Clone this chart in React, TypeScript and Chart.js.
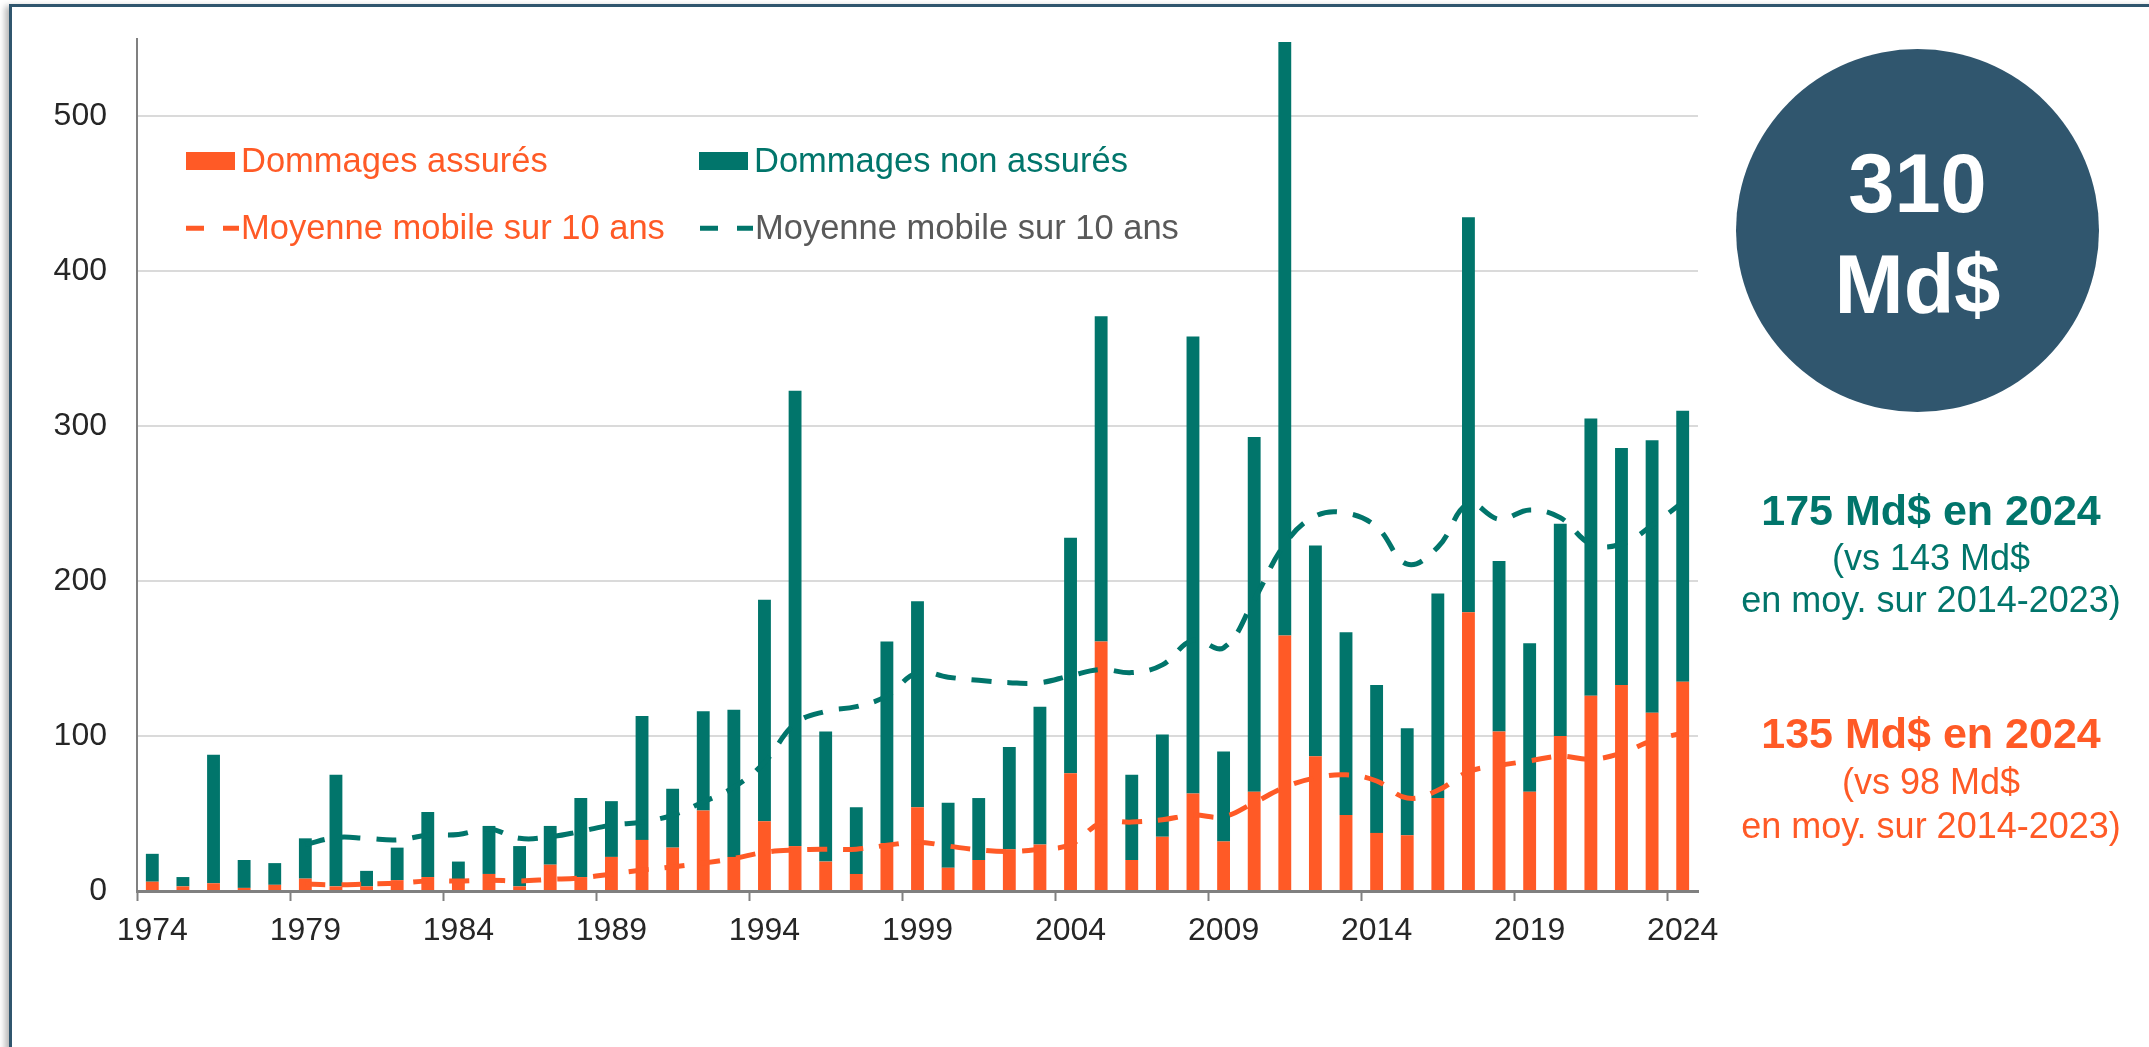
import React, { useEffect, useRef } from 'react';
import { Chart, registerables } from 'chart.js';

Chart.register(...registerables);

// ---------- data ----------
const years = [
  '1974', '1975', '1976', '1977', '1978', '1979', '1980', '1981', '1982', '1983',
  '1984', '1985', '1986', '1987', '1988', '1989', '1990', '1991', '1992', '1993',
  '1994', '1995', '1996', '1997', '1998', '1999', '2000', '2001', '2002', '2003',
  '2004', '2005', '2006', '2007', '2008', '2009', '2010', '2011', '2012', '2013',
  '2014', '2015', '2016', '2017', '2018', '2019', '2020', '2021', '2022', '2023',
  '2024',
];

// Dommages assurés (Md$)
const insured = [
  6, 3, 5, 2, 4, 8, 3, 3, 7, 9,
  7, 11, 3, 17, 9, 22, 33, 28, 52, 22,
  45, 29, 19, 11, 31, 54, 15, 20, 27, 30,
  76, 161, 20, 35, 63, 32, 64, 165, 87, 49,
  37.5, 36, 60, 180, 103, 64, 100, 126, 133, 115,
  135,
];

// Dommages non assurés (Md$)
const uninsured = [
  18, 6, 83, 18, 14, 26, 72, 10, 21, 42,
  12, 31, 26, 25, 51, 36, 80, 38, 64, 95,
  143, 294, 84, 43, 130, 133, 42, 40, 66, 89,
  152, 210, 55, 66, 295, 58, 229, 383, 136, 118,
  95.5, 69, 132, 255, 110, 96, 137, 179, 153, 176,
  175,
];

// Moyenne mobile sur 10 ans — dommages assurés
const movingAvgInsured = [
  null, null, null, null, null, 4.5, 4, 4.5, 5, 6.5,
  6.5, 7, 6.5, 7.5, 8.5, 11, 13.5, 15.5, 18, 21,
  25, 26.5, 27, 27, 29.5, 31.5, 29, 26.5, 25.5, 27,
  30, 44, 44.5, 46, 49, 48, 57, 67, 73, 75,
  71, 60, 65, 77, 81, 84, 87, 85, 89, 97,
  102,
];

// Moyenne mobile sur 10 ans — dommages totaux
const movingAvgTotal = [
  null, null, null, null, null, 30, 34.5, 34, 33, 36,
  36.5, 40, 34, 35, 38.5, 42.5, 44.5, 49, 57.5, 67,
  83, 108, 116, 119, 126, 141, 138, 136, 134.5, 134.5,
  139, 143, 141, 146, 162, 157, 188, 224, 242, 244,
  235, 211, 222, 250, 240, 246, 241, 224, 224, 236,
  251,
];

const seriesLabels = [
  'Dommages assurés',
  'Dommages non assurés',
  'Moyenne mobile sur 10 ans',
  'Moyenne mobile sur 10 ans',
];

const Y_MAX = 550;
const Y_STEP = 100;

// ---------- styles ----------
const ORANGE = '#FF5A26';
const TEAL = '#01756B';
const GREY_TEXT = '#595959';
const NAVY = '#30566E';
const AXIS = '#808080';
const FONT = '"Liberation Sans", Arial, Helvetica, sans-serif';

const legendItems = [
  { ds: 0, kind: 'box', x: 186, y: 171.5, color: ORANGE },
  { ds: 1, kind: 'box', x: 699, y: 171.5, color: TEAL },
  { ds: 2, kind: 'dash', x: 186, y: 239.3, color: ORANGE },
  { ds: 3, kind: 'dash', x: 700, y: 239.3, color: GREY_TEXT },
];

const legendPlugin = {
  id: 'customLegend',
  afterDraw(chart: any) {
    const ctx = chart.ctx;
    ctx.save();
    ctx.font = `34.5px ${FONT}`;
    ctx.textBaseline = 'alphabetic';
    ctx.textAlign = 'left';
    for (const it of legendItems) {
      const ds = chart.data.datasets[it.ds];
      let textX;
      if (it.kind === 'box') {
        ctx.fillStyle = ds.backgroundColor;
        ctx.fillRect(it.x, it.y - 19.5, 49, 18);
        textX = it.x + 55;
      } else {
        ctx.strokeStyle = ds.borderColor;
        ctx.lineWidth = 5;
        ctx.setLineDash([18, 19]);
        ctx.beginPath();
        ctx.moveTo(it.x, it.y - 11);
        ctx.lineTo(it.x + 53, it.y - 11);
        ctx.stroke();
        ctx.setLineDash([]);
        textX = it.x + 55;
      }
      ctx.fillStyle = it.color;
      ctx.fillText(ds.label, textX, it.y);
    }
    ctx.restore();
  },
};

export default function App() {
  const canvasRef = useRef<HTMLCanvasElement>(null);

  useEffect(() => {
    const canvas = canvasRef.current;
    if (!canvas) return;
    const chart = new Chart(canvas, {
      type: 'bar',
      data: {
        labels: years,
        datasets: [
          {
            type: 'bar',
            label: seriesLabels[0],
            data: insured,
            backgroundColor: ORANGE,
            stack: 'bars',
            order: 1,
            categoryPercentage: 1,
            barPercentage: 0.42,
          },
          {
            type: 'bar',
            label: seriesLabels[1],
            data: uninsured,
            backgroundColor: TEAL,
            stack: 'bars',
            order: 1,
            categoryPercentage: 1,
            barPercentage: 0.42,
          },
          {
            type: 'line',
            label: seriesLabels[2],
            data: movingAvgInsured,
            borderColor: ORANGE,
            backgroundColor: ORANGE,
            borderWidth: 5,
            borderDash: [20, 16],
            pointRadius: 0,
            tension: 0.4,
            fill: false,
            stack: 'maInsured',
            order: 0,
          },
          {
            type: 'line',
            label: seriesLabels[3],
            data: movingAvgTotal,
            borderColor: TEAL,
            backgroundColor: TEAL,
            borderWidth: 5,
            borderDash: [20, 16],
            pointRadius: 0,
            tension: 0.4,
            fill: false,
            stack: 'maTotal',
            order: 0,
          },
        ] as any,
      },
      options: {
        responsive: false,
        animation: false,
        devicePixelRatio: 1,
        layout: { padding: { top: 39, right: 42, bottom: 0, left: 0 } },
        plugins: {
          legend: { display: false },
          tooltip: { enabled: false },
        },
        scales: {
          x: {
            stacked: true,
            offset: true,
            grid: {
              offset: true,
              drawOnChartArea: false,
              drawTicks: true,
              tickLength: 10,
              tickWidth: 2,
              tickColor: (c: any) => (c.index % 5 === 0 ? AXIS : 'rgba(0,0,0,0)'),
            },
            border: { color: AXIS, width: 3 },
            ticks: {
              autoSkip: false,
              maxRotation: 0,
              minRotation: 0,
              color: '#262626',
              font: { family: FONT, size: 32 },
              padding: 11,
              callback: function (this: any, v: any, i: number) {
                return i % 5 === 0 ? this.getLabelForValue(v) : '';
              },
            },
            afterFit: (s: any) => {
              s.height = 109;
            },
          },
          y: {
            stacked: true,
            min: 0,
            max: Y_MAX,
            grid: { color: '#DADADA', lineWidth: 2, drawTicks: false },
            border: { color: AXIS, width: 2 },
            ticks: {
              stepSize: Y_STEP,
              includeBounds: false,
              padding: 30,
              color: '#262626',
              font: { family: FONT, size: 32 },
            },
            afterFit: (s: any) => {
              s.width = 137;
              s.paddingTop = 0;
              s.paddingBottom = 0;
            },
          },
        },
      } as any,
      plugins: [legendPlugin],
    });
    return () => chart.destroy();
  }, []);

  const line = (
    text: string,
    top: number,
    size: number,
    color: string,
    bold: boolean
  ) => (
    <div
      style={{
        position: 'absolute',
        left: 1721,
        width: 420,
        top,
        fontSize: size,
        lineHeight: `${size}px`,
        fontWeight: bold ? 700 : 400,
        color,
        textAlign: 'center',
        whiteSpace: 'pre',
      }}
    >
      {text}
    </div>
  );

  return (
    <div
      style={{
        position: 'fixed',
        left: 0,
        top: 0,
        width: 2149,
        height: 1047,
        background: '#ffffff',
        overflow: 'hidden',
        fontFamily: FONT,
      }}
    >
      <div
        style={{
          position: 'absolute',
          left: 9,
          top: 4,
          width: 2200,
          height: 1100,
          borderTop: `3px solid ${NAVY}`,
          borderLeft: `3px solid ${NAVY}`,
          boxShadow: '-4px 2px 6px rgba(0,0,0,0.28)',
          background: '#ffffff',
        }}
      />
      <canvas
        ref={canvasRef}
        width={1740}
        height={1000}
        style={{ position: 'absolute', left: 0, top: 0, width: 1740, height: 1000 }}
      />
      <div
        style={{
          position: 'absolute',
          left: 1736,
          top: 49,
          width: 363,
          height: 363,
          borderRadius: '50%',
          background: NAVY,
        }}
      >
        <div
          style={{
            position: 'absolute',
            left: 0,
            width: 363,
            top: 85,
            fontSize: 83,
            lineHeight: '100px',
            fontWeight: 700,
            color: '#ffffff',
            textAlign: 'center',
          }}
        >
          310
        </div>
        <div
          style={{
            position: 'absolute',
            left: 0,
            width: 363,
            top: 186,
            fontSize: 83,
            lineHeight: '100px',
            fontWeight: 700,
            color: '#ffffff',
            textAlign: 'center',
          }}
        >
          Md$
        </div>
      </div>
      {line('175 Md$ en 2024', 489, 43, TEAL, true)}
      {line('(vs 143 Md$', 540, 36, TEAL, false)}
      {line('en moy. sur 2014-2023)', 582, 36, TEAL, false)}
      {line('135 Md$ en 2024', 712, 43, ORANGE, true)}
      {line('(vs 98 Md$', 764, 36, ORANGE, false)}
      {line('en moy. sur 2014-2023)', 808, 36, ORANGE, false)}
    </div>
  );
}
